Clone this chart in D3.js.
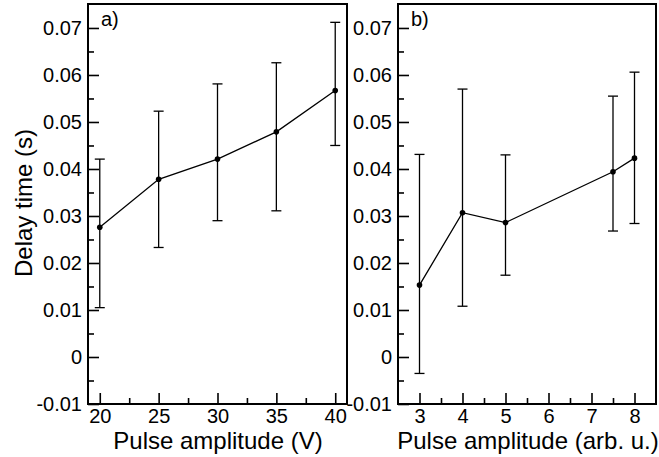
<!DOCTYPE html>
<html>
<head>
<meta charset="utf-8">
<script src="https://cdn.jsdelivr.net/npm/d3@7"></script>
<style>
body { margin: 0; background: #fff; }
text { font-family: "Liberation Sans", Arial, sans-serif; }
</style>
</head>
<body>
<div id="vis"></div>
<script>
// panel a data
var voltsA = [20, 25, 30, 35, 40];
var delayA = [0.0276, 0.0378, 0.0421, 0.0479, 0.0567];
var lowA   = [0.0105, 0.0233, 0.0290, 0.0311, 0.0450];
var highA  = [0.0421, 0.0523, 0.0581, 0.0626, 0.0712];

// panel b data
var ampB   = [3, 4, 5, 7.5, 8];
var delayB = [0.0153, 0.0307, 0.0286, 0.0394, 0.0423];
var lowB   = [-0.0035, 0.0108, 0.0174, 0.0268, 0.0284];
var highB  = [0.0431, 0.0570, 0.0430, 0.0555, 0.0606];

var yTicks = [-0.01, 0, 0.01, 0.02, 0.03, 0.04, 0.05, 0.06, 0.07];
var yMinor = [-0.005, 0.005, 0.015, 0.025, 0.035, 0.045, 0.055, 0.065];
var xTicksA = [20, 25, 30, 35, 40];
var xMinorA = [22.5, 27.5, 32.5, 37.5];
var xTicksB = [3, 4, 5, 6, 7, 8];
var xMinorB = [3.5, 4.5, 5.5, 6.5, 7.5];

var w = 659;
var h = 457;

var svg = d3.select("#vis")
.append("svg")
.attr("width", w)
.attr("height", h);

var topY = 4, bottomY = 404;

var y = d3.scaleLinear()
.domain([-0.01, 0.0751])
.range([bottomY, topY]);

function fmt(d) {
  if (Math.abs(d) < 1e-9) return "0";
  return d.toFixed(2);
}

function panel(opts) {
  var x = d3.scaleLinear()
  .domain(opts.domain)
  .range([opts.left, opts.right]);

  var g = svg.append("g");

  // minor ticks
  g.append("g")
  .attr("transform", `translate(${opts.left},0)`)
  .call(d3.axisLeft(y).tickValues(yMinor).tickSize(-6).tickFormat(""))
  .call(a => a.select(".domain").remove());

  g.append("g")
  .attr("transform", `translate(0,${bottomY})`)
  .call(d3.axisBottom(x).tickValues(opts.minor).tickSize(-6).tickFormat(""))
  .call(a => a.select(".domain").remove());

  // major ticks
  g.append("g")
  .attr("transform", `translate(${opts.left},0)`)
  .call(d3.axisLeft(y).tickValues(yTicks).tickSize(-11).tickPadding(6).tickFormat(fmt))
  .call(a => a.select(".domain").remove())
  .selectAll("text")
  .attr("font-size", 20)
  .attr("fill", "#000");

  g.append("g")
  .attr("transform", `translate(0,${bottomY})`)
  .call(d3.axisBottom(x).tickValues(opts.ticks).tickSize(-11).tickPadding(5).tickFormat(d3.format("d")))
  .call(a => a.select(".domain").remove())
  .selectAll("text")
  .attr("font-size", 20)
  .attr("fill", "#000");

  g.selectAll(".tick line").attr("stroke", "#000").attr("stroke-width", 1.6);

  // frame
  g.append("rect")
  .attr("x", opts.left)
  .attr("y", topY)
  .attr("width", opts.right - opts.left)
  .attr("height", bottomY - topY)
  .attr("fill", "none")
  .attr("stroke", "#000")
  .attr("stroke-width", 2);

  var pts = opts.xs.map((v, i) => ({x: v, y: opts.ys[i], lo: opts.lo[i], hi: opts.hi[i]}));

  // error bars
  var eb = g.selectAll(".eb").data(pts).enter().append("g");
  eb.append("line")
  .attr("x1", d => x(d.x)).attr("x2", d => x(d.x))
  .attr("y1", d => y(d.lo)).attr("y2", d => y(d.hi))
  .attr("stroke", "#000").attr("stroke-width", 1.3);
  eb.append("line")
  .attr("x1", d => x(d.x) - 5).attr("x2", d => x(d.x) + 5)
  .attr("y1", d => y(d.hi)).attr("y2", d => y(d.hi))
  .attr("stroke", "#000").attr("stroke-width", 1.3);
  eb.append("line")
  .attr("x1", d => x(d.x) - 5).attr("x2", d => x(d.x) + 5)
  .attr("y1", d => y(d.lo)).attr("y2", d => y(d.lo))
  .attr("stroke", "#000").attr("stroke-width", 1.3);

  // line + points
  g.append("path")
  .datum(pts)
  .attr("d", d3.line().x(d => x(d.x)).y(d => y(d.y)))
  .attr("fill", "none")
  .attr("stroke", "#000")
  .attr("stroke-width", 1.3);

  g.selectAll("circle")
  .data(pts)
  .enter()
  .append("circle")
  .attr("cx", d => x(d.x))
  .attr("cy", d => y(d.y))
  .attr("r", 2.8)
  .attr("fill", "#000");

  // panel label
  g.append("text")
  .attr("x", opts.left + 13)
  .attr("y", 26)
  .attr("font-size", 20)
  .text(opts.label);

  // x title
  g.append("text")
  .attr("x", opts.titleX)
  .attr("y", 449)
  .attr("text-anchor", "middle")
  .attr("font-size", 24)
  .text(opts.title);
}

panel({left: 88, right: 347, domain: [19, 41], ticks: xTicksA, minor: xMinorA,
  xs: voltsA, ys: delayA, lo: lowA, hi: highA, label: "a)", title: "Pulse amplitude (V)", titleX: 218});

panel({left: 398, right: 656, domain: [2.5, 8.5], ticks: xTicksB, minor: xMinorB,
  xs: ampB, ys: delayB, lo: lowB, hi: highB, label: "b)", title: "Pulse amplitude (arb. u.)", titleX: 528});

// y title
svg.append("text")
.attr("transform", "translate(32,203) rotate(-90)")
.attr("text-anchor", "middle")
.attr("font-size", 24)
.text("Delay time (s)");
</script>
</body>
</html>
